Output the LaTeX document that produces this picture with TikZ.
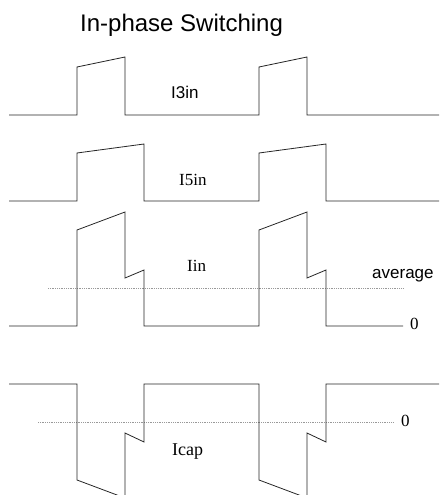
\documentclass[tikz,border=0pt]{standalone}
\usepackage{fontspec}
\setmainfont{Liberation Serif}
\setsansfont{Liberation Sans}
\begin{document}
\begin{tikzpicture}[x=1pt,y=-1pt,
  wave/.style={line width=0.8pt,black!85,line join=miter},
  refline/.style={line width=0.6pt,black!40,dash pattern=on 1pt off 0.8pt},
  lbl/.style={inner sep=0pt,anchor=base west},
  sanslbl/.style={lbl,font=\sffamily\fontsize{17}{19}\selectfont},
  seriflbl/.style={lbl,font=\fontsize{17}{19}\selectfont}]
\clip (0,0) rectangle (439,495);
\fill[white] (0,0) rectangle (439,495);
% title
\node[lbl,font=\sffamily\fontsize{24}{28}\selectfont] (title) at (80,32) {In-phase Switching};
% I3in
\draw[wave] (9,115)--(77,115)--(77,67)--(125,57)--(125,115)--(259,115)--(259,67)--(307,57)--(307,115)--(440,115);
\node[sanslbl] (i3) at (171,98) {I3in};
% I5in
\draw[wave] (9,201)--(77,201)--(77,153)--(144,144)--(144,201)--(259,201)--(259,153)--(326,144)--(326,201)--(440,201);
\node[seriflbl] (i5) at (179,185) {I5in};
% Iin
\draw[refline] (48,288)--(403,288);
\draw[wave] (9,326)--(77,326)--(77,230)--(125,212)--(125,278)--(144,270)--(144,326)--(259,326)--(259,230)--(307,212)--(307,278)--(326,270)--(326,326)--(403,326);
\node[seriflbl] (iin) at (187,271) {Iin};
\node[sanslbl] (avg) at (372,278) {average};
\node[seriflbl] (z1) at (410,329) {0};
% Icap
\draw[refline] (38,422)--(393,422);
\draw[wave] (9,384)--(77,384)--(77,480)--(125,498)--(125,433)--(144,442)--(144,384)--(259,384)--(259,480)--(307,498)--(307,433)--(326,442)--(326,384)--(440,384);
\node[seriflbl,font=\fontsize{18}{20}\selectfont] (icap) at (172,455) {Icap};
\node[seriflbl] (z2) at (401,426) {0};
\end{tikzpicture}
\end{document}
